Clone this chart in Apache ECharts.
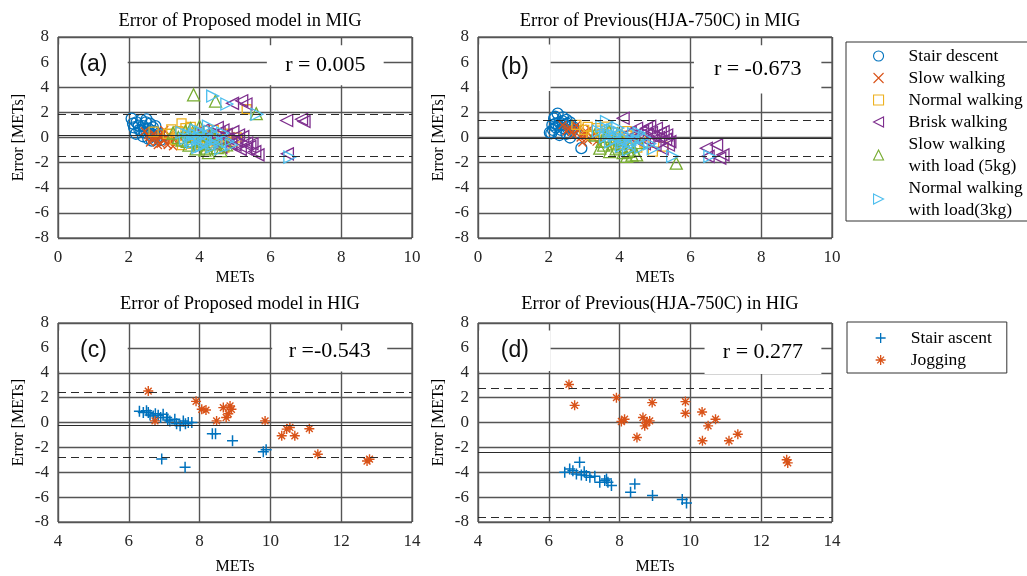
<!DOCTYPE html>
<html>
<head>
<meta charset="utf-8">
<script src="https://cdn.jsdelivr.net/npm/echarts@6/dist/echarts.min.js"></script>
<style>
  html, body { margin: 0; padding: 0; background: #fff; }
  #chart { width: 1027px; height: 576px; }
</style>
</head>
<body>
<div id="chart"></div>
<script>
// ---- Activity names ----
const migNames = ['Stair descent', 'Slow walking', 'Normal walking', 'Brisk walking',
                  'Slow walking\nwith load (5kg)', 'Normal walking\nwith load(3kg)'];
const higNames = ['Stair ascent', 'Jogging'];

// ---- Axis ticks ----
const migXTicks = [0, 2, 4, 6, 8, 10];
const higXTicks = [4, 6, 8, 10, 12, 14];
const errTicks = [-8, -6, -4, -2, 0, 2, 4, 6, 8];

// ---- (a) Proposed model, MIG : [mean METs, error] ----
const aStairDescent = [[2.08,1.5],[2.15,0.8],[2.22,1.2],[2.3,0.6],[2.35,1.4],[2.4,0.9],[2.45,0.4],[2.5,1.45],[2.55,0.7],[2.6,1.1],[2.62,0.2],[2.7,0.5],[2.75,0.9],[2.8,0.0],[2.85,0.3],[2.9,-0.2],[2.4,0.1],[2.55,-0.1],[2.2,0.3],[2.68,0.8],[2.12,1.1],[2.28,0.95],[2.48,1.2],[2.58,0.45],[2.72,0.15],[2.95,0.1],[2.35,0.55],[2.65,-0.25]];
const aSlowWalking = [[2.45,0.5],[2.55,0.2],[2.65,-0.1],[2.7,0.3],[2.8,-0.3],[2.85,0.1],[2.9,-0.5],[2.95,0.4],[3.0,-0.2],[3.05,0.0],[3.1,-0.6],[3.15,0.2],[3.2,-0.3],[3.3,-0.1],[3.4,0.1],[2.6,-0.4],[3.0,0.6],[3.25,-0.7],[2.75,-0.05],[2.92,0.15],[3.12,-0.35],[2.58,0.05],[3.35,-0.4],[2.82,-0.6]];
const aNormalWalking = [[2.7,0.47],[3.1,0.3],[3.3,-0.2],[3.49,1.13],[3.6,0.74],[3.7,0.1],[3.8,-0.5],[3.9,0.4],[4.0,-0.3],[4.1,0.2],[4.2,-0.7],[4.3,0.0],[4.4,0.6],[4.5,-0.4],[4.6,0.1],[4.7,-0.8],[4.94,-0.33],[5.05,0.0],[5.33,2.25],[3.5,-0.6],[3.4,0.5],[3.75,0.85],[3.95,-0.1],[4.15,0.55],[4.35,-0.45],[4.8,0.3],[3.2,0.65],[4.55,-0.15]];
const aBriskWalking = [[4.1,0.6],[4.3,0.2],[4.4,-0.3],[4.5,0.8],[4.66,0.6],[4.8,-0.1],[4.94,0.47],[5.0,-0.6],[5.1,0.2],[5.22,0.07],[5.33,-0.45],[5.42,-0.72],[5.56,-1.12],[5.65,-1.38],[4.93,2.72],[5.19,2.93],[5.31,2.67],[6.46,1.35],[6.88,1.45],[6.95,1.27],[6.48,-1.3],[4.6,-0.8],[5.3,-0.9],[4.2,-0.1],[4.75,0.25],[5.05,-0.25],[5.15,-0.95],[5.48,-0.5],[4.88,-0.55],[4.55,0.4]];
const aSlowLoad = [[3.25,0.36],[3.5,-0.2],[3.6,0.5],[3.7,-0.6],[3.8,0.1],[3.83,3.4],[3.9,-0.9],[4.0,0.87],[4.05,-0.3],[4.1,0.2],[4.2,-0.85],[4.3,-0.5],[4.4,0.0],[4.45,2.9],[4.5,-0.8],[5.6,1.9],[3.75,0.7],[4.25,-1.2],[4.76,-0.59],[3.4,0.0],[3.95,-0.5],[4.15,-1.0],[4.35,0.3],[3.65,-0.3],[4.6,-1.05]];
const aNormalLoad = [[3.5,0.4],[3.6,-0.1],[3.7,0.2],[3.8,-0.4],[3.9,0.6],[4.0,0.0],[4.05,-0.7],[4.1,0.3],[4.2,-0.2],[4.3,0.5],[4.37,3.3],[4.4,-0.5],[4.5,0.1],[4.6,-0.9],[4.77,2.67],[4.8,-0.3],[5.62,1.85],[6.55,-1.56],[3.95,-0.8],[4.25,0.9],[3.85,0.25],[4.15,-0.45],[4.45,-0.15],[4.65,0.35],[3.75,-0.25],[4.35,-0.75],[4.02,0.45],[4.9,-0.6]];

// ---- (b) Previous (HJA-750C), MIG ----
const bStairDescent = [[2.03,0.4],[2.07,0.34],[2.1,1.0],[2.15,1.5],[2.2,0.8],[2.25,1.9],[2.3,1.2],[2.35,0.6],[2.4,1.6],[2.45,1.0],[2.5,1.4],[2.55,0.9],[2.6,1.2],[2.65,0.5],[2.7,0.8],[2.3,0.2],[2.92,-0.85],[2.5,0.3],[2.2,1.1],[2.6,0.0],[2.18,1.65],[2.38,1.3],[2.42,0.75],[2.52,1.1],[2.28,0.95],[2.62,0.85],[2.12,0.6],[2.75,0.35]];
const bSlowWalking = [[2.39,1.0],[2.5,0.5],[2.6,0.8],[2.7,0.2],[2.8,0.6],[2.87,0.76],[2.9,0.0],[3.0,0.4],[3.06,0.47],[3.1,-0.2],[3.2,0.1],[3.3,0.3],[3.35,-0.33],[3.45,-0.1],[2.95,-0.4],[3.15,0.7],[2.65,0.45],[2.78,0.95],[3.02,0.15],[3.25,-0.05],[2.55,0.7]];
const bNormalWalking = [[2.78,1.0],[3.0,0.6],[3.2,0.2],[3.35,0.74],[3.5,0.3],[3.63,0.87],[3.7,-0.2],[3.8,0.4],[3.9,-0.5],[4.0,0.1],[4.1,-0.3],[4.2,0.5],[4.3,-0.6],[4.4,-0.1],[4.5,-0.8],[4.7,-0.4],[4.94,-1.12],[5.23,-0.72],[4.6,0.0],[3.1,0.85],[3.45,0.55],[3.85,-0.05],[4.05,-0.6],[4.25,0.15],[3.55,-0.4]];
const bBriskWalking = [[4.1,1.53],[4.3,0.4],[4.48,0.74],[4.6,0.2],[4.76,0.74],[4.8,-0.3],[4.9,0.4],[5.04,0.74],[5.1,0.0],[5.23,0.47],[5.33,0.2],[5.42,-0.33],[5.0,-0.6],[5.2,-0.9],[4.7,-0.5],[6.45,-0.85],[6.74,-0.59],[6.92,-1.38],[6.83,-1.64],[6.5,-1.5],[4.5,-0.2],[4.65,0.5],[4.95,0.1],[5.15,0.35],[5.3,-0.15],[4.4,0.15],[4.85,0.9],[5.38,-0.6]];
const bSlowLoad = [[3.3,0.2],[3.44,-0.85],[3.5,-0.3],[3.6,0.1],[3.72,-1.12],[3.8,-0.5],[3.9,-0.9],[4.0,-0.2],[4.1,-1.2],[4.2,-1.5],[4.3,-0.7],[4.4,-1.0],[4.48,-1.38],[4.55,-0.4],[3.7,0.5],[5.6,-2.04],[3.55,-0.6],[3.85,-0.1],[4.05,-0.75],[4.25,-1.1],[3.95,0.3],[4.35,-1.4]];
const bNormalLoad = [[3.4,0.5],[3.5,0.9],[3.63,1.26],[3.7,0.2],[3.8,0.6],[3.9,-0.1],[4.0,0.4],[4.1,-0.4],[4.2,0.1],[4.3,-0.6],[4.4,0.3],[4.5,-0.2],[4.6,-0.8],[4.7,0.0],[4.85,-0.5],[4.95,-0.9],[5.5,-1.5],[6.55,-1.5],[4.25,-1.0],[3.6,0.05],[3.75,-0.35],[3.95,0.75],[4.15,-0.15],[4.35,-0.3],[4.55,0.35],[4.05,-0.7],[3.85,0.15]];

// ---- (c) Proposed model, HIG ----
const cStairAscent = [[6.3,0.9],[6.41,0.8],[6.5,0.95],[6.55,0.8],[6.6,0.6],[6.69,0.53],[6.75,0.7],[6.83,0.58],[6.9,0.4],[6.97,0.66],[7.07,0.4],[7.1,0.2],[7.16,0.13],[7.3,0.26],[7.35,-0.1],[7.45,-0.27],[7.54,0.13],[7.6,-0.1],[7.68,0.0],[7.78,0.0],[6.93,-2.94],[7.59,-3.6],[8.36,-0.9],[8.45,-0.9],[8.93,-1.47],[9.8,-2.35],[9.88,-2.19]];
const cJogging = [[6.55,2.53],[6.74,0.13],[7.9,1.7],[8.06,1.06],[8.18,1.0],[8.48,0.13],[8.67,1.2],[8.86,1.33],[8.9,1.06],[8.75,0.4],[8.81,0.7],[9.85,0.13],[10.32,-1.07],[10.46,-0.53],[10.55,-0.4],[10.69,-1.07],[11.1,-0.5],[11.34,-2.55],[12.73,-3.1],[12.8,-2.95]];

// ---- (d) Previous (HJA-750C), HIG ----
const dStairAscent = [[6.45,-4.0],[6.59,-3.73],[6.68,-3.87],[6.78,-4.14],[6.87,-3.2],[6.92,-4.22],[7.0,-3.95],[7.06,-4.27],[7.16,-4.4],[7.3,-4.32],[7.44,-4.8],[7.58,-4.67],[7.63,-4.54],[7.67,-4.8],[7.77,-5.07],[8.31,-5.6],[8.43,-4.94],[8.93,-5.87],[9.77,-6.19],[9.89,-6.48]];
const dJogging = [[6.57,3.06],[6.73,1.38],[7.91,2.0],[8.05,0.08],[8.14,0.26],[8.49,-1.2],[8.66,0.4],[8.71,-0.27],[8.76,0.0],[8.85,0.13],[8.92,1.6],[9.86,1.68],[9.86,0.74],[10.33,0.85],[10.34,-1.47],[10.5,-0.27],[10.71,0.26],[11.09,-1.47],[11.34,-0.94],[12.72,-3.0],[12.75,-3.25]];

// ---- Bland-Altman statistics: [mean bias, upper LoA, lower LoA] ----
const aStats = [0.17, 1.85, -1.51];
const bStats = [-0.03, 1.4, -1.46];
const cStats = [-0.2, 2.4, -2.8];
const dStats = [-2.43, 2.72, -7.58];

// ---- Panel annotations ----
const panelTitles = ['Error of Proposed model in MIG', 'Error of Previous(HJA-750C) in MIG',
                     'Error of Proposed model in HIG', 'Error of Previous(HJA-750C) in HIG'];
const panelTags = ['(a)', '(b)', '(c)', '(d)'];
const corrTexts = ['r = 0.005', 'r = -0.673', 'r =-0.543', 'r = 0.277'];

// ---- Styling ----
const SERIF = '"Liberation Serif", "Times New Roman", serif';
const SANS = '"Liberation Sans", Arial, sans-serif';
const migColors = ['#0072BD', '#D95319', '#EDB120', '#7E2F8E', '#77AC30', '#4DBEEE'];
const migSymbols = ['circle', 'path://M0,0L10,10M10,0L0,10', 'path://M0,0L10,0L10,10L0,10Z',
                    'path://M10,0L10,10L0,5Z', 'path://M5,0L10,10L0,10Z', 'path://M0,0L10,5L0,10Z'];
const migSizes = [11, 8, 9, 12, 12, 12];
const higColors = ['#0072BD', '#D95319'];
const higSymbols = ['path://M5,0L5,10M0,5L10,5',
                    'path://M5,0L5,10M0,5L10,5M1.6,1.6L8.4,8.4M8.4,1.6L1.6,8.4'];
const higSizes = [11, 10];
const higWidths = [1.5, 1.4];

const layout = [
  { left: 58,  top: 37,  width: 354, height: 201 },
  { left: 478, top: 37,  width: 354, height: 201 },
  { left: 58,  top: 323, width: 354, height: 200 },
  { left: 478, top: 323, width: 354, height: 200 }
];

// white annotation boxes (data coords): [tag box, r box]
const boxes = [
  { tag: [[0.03, 7.4], [1.97, 4.2]],  r: [[5.9, 7.35], [9.2, 4.15]] },
  { tag: [[0.03, 7.4], [2.05, 3.7]],  r: [[6.1, 7.35], [9.7, 3.5]] },
  { tag: [[4.03, 7.4], [5.97, 4.15]], r: [[10.05, 7.4], [13.3, 4.1]] },
  { tag: [[4.03, 7.4], [6.05, 4.15]], r: [[10.4, 7.4], [13.7, 3.9]] }
];

const panelData = [
  { names: migNames, sets: [aStairDescent, aSlowWalking, aNormalWalking, aBriskWalking, aSlowLoad, aNormalLoad], stats: aStats },
  { names: migNames, sets: [bStairDescent, bSlowWalking, bNormalWalking, bBriskWalking, bSlowLoad, bNormalLoad], stats: bStats },
  { names: higNames, sets: [cStairAscent, cJogging], stats: cStats },
  { names: higNames, sets: [dStairAscent, dJogging], stats: dStats }
];

const xTickSets = [migXTicks, migXTicks, higXTicks, higXTicks];
const xNameGaps = [32, 32, 37, 37];

// Legend icons keep their aspect inside a wide slot, so the left padding
// absorbs the empty part of the slot to place the box edge correctly.
const legendText = { fontFamily: SERIF, fontSize: 17.5, lineHeight: 22, color: '#000' };

const option = {
  animation: false,
  backgroundColor: '#fff',
  title: panelTitles.map((t, i) => ({
    text: t,
    left: layout[i].left + layout[i].width / 2,
    top: i < 2 ? 7 : 290,
    textAlign: 'center',
    textStyle: { fontFamily: SERIF, fontSize: 18.5, fontWeight: 'normal', color: '#000' }
  })),
  grid: layout.map(g => ({
    left: g.left, top: g.top, width: g.width, height: g.height,
    show: true, borderColor: '#262626', borderWidth: 1, backgroundColor: '#fff'
  })),
  xAxis: layout.map((g, i) => {
    const ticks = xTickSets[i];
    return {
      type: 'value', gridIndex: i,
      min: ticks[0], max: ticks[ticks.length - 1], interval: ticks[1] - ticks[0],
      name: 'METs', nameLocation: 'middle', nameGap: xNameGaps[i],
      nameTextStyle: { fontFamily: SERIF, fontSize: 16, color: '#000' },
      axisLine: { show: false }, axisTick: { show: false },
      axisLabel: { fontFamily: SERIF, fontSize: 17, color: '#262626', margin: 11 },
      splitLine: { show: true, lineStyle: { color: '#555', width: 1.4 } }
    };
  }),
  yAxis: layout.map((g, i) => ({
    type: 'value', gridIndex: i,
    min: errTicks[0], max: errTicks[errTicks.length - 1], interval: errTicks[1] - errTicks[0],
    name: 'Error [METs]', nameLocation: 'middle', nameGap: 31,
    nameTextStyle: { fontFamily: SERIF, fontSize: 16, color: '#000' },
    axisLine: { show: false }, axisTick: { show: false },
    axisLabel: { fontFamily: SERIF, fontSize: 17, color: '#262626', margin: 9 },
    splitLine: { show: true, lineStyle: { color: '#555', width: 1.4 } }
  })),
  legend: [
    {
      data: migNames, orient: 'vertical', left: 846, top: 42,
      padding: [3, 14, 0, 27], itemGap: 0, itemWidth: 50, itemHeight: 10,
      borderColor: '#333', borderWidth: 1, backgroundColor: '#fff',
      itemStyle: { borderWidth: 1.1 },
      textStyle: legendText,
      selectedMode: false
    },
    {
      data: higNames, orient: 'vertical', left: 847, top: 322,
      padding: [5, 15, 2, 28], itemGap: 0, itemWidth: 50, itemHeight: 10,
      borderColor: '#333', borderWidth: 1, backgroundColor: '#fff',
      itemStyle: { borderWidth: 1.3 },
      textStyle: legendText,
      selectedMode: false
    }
  ],
  series: []
};

panelData.forEach((p, i) => {
  const isMig = i < 2;
  p.sets.forEach((pts, k) => {
    const s = {
      type: 'scatter', name: p.names[k],
      xAxisIndex: i, yAxisIndex: i,
      data: pts,
      symbol: isMig ? migSymbols[k] : higSymbols[k],
      symbolSize: isMig ? migSizes[k] : higSizes[k],
      itemStyle: {
        color: 'transparent', opacity: 1,
        borderColor: isMig ? migColors[k] : higColors[k],
        borderWidth: isMig ? 1.3 : higWidths[k]
      },
      emphasis: { disabled: true },
      silent: true,
      z: 3
    };
    if (k === 0) {
      const [mean, hi, lo] = p.stats;
      s.markLine = {
        silent: true, symbol: 'none', label: { show: false },
        data: [
          { yAxis: mean, lineStyle: { type: 'solid', color: '#2a2a2a', width: 1 } },
          { yAxis: hi, lineStyle: { type: [8, 5], color: '#2a2a2a', width: 1 } },
          { yAxis: lo, lineStyle: { type: [8, 5], color: '#2a2a2a', width: 1 } }
        ]
      };
      const b = boxes[i];
      s.markArea = {
        silent: true,
        data: [
          [
            { xAxis: b.tag[0][0], yAxis: b.tag[0][1],
              itemStyle: { color: '#fff', opacity: 1, borderWidth: 0 },
              label: { show: true, position: 'inside', formatter: panelTags[i],
                       fontFamily: SANS, fontSize: 23, color: '#111' } },
            { xAxis: b.tag[1][0], yAxis: b.tag[1][1] }
          ],
          [
            { xAxis: b.r[0][0], yAxis: b.r[0][1],
              itemStyle: { color: '#fff', opacity: 1, borderWidth: 0 },
              label: { show: true, position: 'inside', formatter: corrTexts[i],
                       fontFamily: SERIF, fontSize: 22, color: '#000' } },
            { xAxis: b.r[1][0], yAxis: b.r[1][1] }
          ]
        ]
      };
    }
    option.series.push(s);
  });
});

const chart = echarts.init(document.getElementById('chart'), null, { renderer: 'canvas' });
chart.setOption(option);
</script>
</body>
</html>
